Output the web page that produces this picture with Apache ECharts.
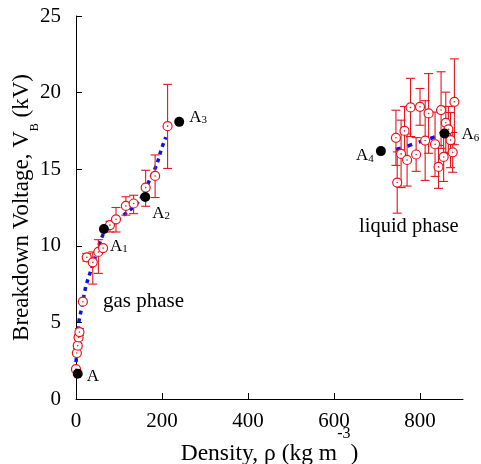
<!DOCTYPE html>
<html>
<head>
<meta charset="utf-8">
<script src="https://cdn.jsdelivr.net/npm/echarts@6/dist/echarts.min.js"></script>
<style>html,body{margin:0;padding:0;background:#fff}#c{width:481px;height:464px}</style>
</head>
<body>
<div id="c"></div>
<script>
// ---- data ----
const xTicks = [0, 200, 400, 600, 800];
const yTicks = [0, 5, 10, 15, 20, 25];

// gas phase measurements (open red circles) with error bar limits
const gasX    = [0, 2, 4, 6, 8, 16, 25, 39, 52, 63, 79, 93, 116, 134, 162, 184, 213];
const gasY    = [1.95, 3.0, 3.48, 4.02, 4.37, 6.35, 9.25, 8.92, 9.6, 9.85, 11.35, 11.73, 12.6, 12.76, 13.8, 14.56, 17.81];
const gasLow  = [1.95, 3.0, 3.3, 3.85, 4.15, 6.35, 9.0, 7.5, 8.2, 9.85, 10.9, 10.9, 12.0, 12.1, 12.58, 13.15, 15.05];
const gasHigh = [1.95, 3.0, 3.65, 4.2, 4.6, 6.35, 9.5, 9.6, 10.4, 9.85, 11.6, 12.5, 13.2, 13.3, 14.93, 15.93, 20.54];

// liquid phase measurements
const liqX    = [744, 747, 756, 764, 770, 778, 791, 800, 812, 820, 835, 843, 849, 855, 860, 866, 871, 876, 880];
const liqY    = [17.05, 14.13, 16.0, 17.5, 15.6, 19.03, 15.96, 19.07, 16.87, 18.64, 16.63, 15.15, 18.86, 15.8, 18.03, 17.6, 16.9, 16.1, 19.4];
const liqErr  = [1.8, 2.0, 2.2, 1.6, 1.7, 1.9, 1.1, 1.2, 2.6, 2.6, 2.1, 1.4, 2.5, 1.6, 2.0, 1.5, 1.8, 1.3, 2.8];

// reference points (filled black)
const refX     = [4, 65, 161, 240, 709, 857];
const refY     = [1.65, 11.1, 13.19, 18.09, 16.18, 17.33];
const refNames = ['A', 'A1', 'A2', 'A3', 'A4', 'A6'];

// fitted trend lines (blue dotted)
const gasFitX = [0, 7, 14, 23, 37, 56, 65, 80, 106, 127, 149, 168, 188, 199, 209];
const gasFitY = [2.4, 5.1, 6.07, 7.4, 8.6, 10.25, 10.9, 11.35, 11.9, 12.37, 12.97, 14.1, 15.3, 16.35, 17.1];
const liqFitX = [744, 767, 788, 831, 850, 874];
const liqFitY = [16.29, 16.46, 16.68, 17.07, 17.27, 17.55];

// ---- chart ----
const FONT = 'Liberation Serif';
const RED = '#e8141b';
const chart = echarts.init(document.getElementById('c'), null, {renderer: 'canvas'});

const zip = (a, b) => a.map((v, i) => [v, b[i]]);
const errData = gasX.map((x, i) => [x, gasLow[i], gasHigh[i]])
  .concat(liqX.map((x, i) => [x, liqY[i] - liqErr[i], liqY[i] + liqErr[i]]));

const labelPlace = {
  'A':  {position: 'right', distance: 4, offset: [0, 2]},
  'A1': {position: 'right', distance: 1, offset: [0, 17]},
  'A2': {position: 'right', distance: 2, offset: [0, 16]},
  'A3': {position: 'right', distance: 5, offset: [0, -5]},
  'A4': {position: 'left',  distance: 2, offset: [0, 4]},
  'A6': {position: 'right', distance: 12, offset: [0, 1]}
};
const richLbl = {
  a: {fontFamily: FONT, fontSize: 17, color: '#000', lineHeight: 18, verticalAlign: 'bottom'},
  s: {fontFamily: FONT, fontSize: 11, color: '#000', lineHeight: 12, verticalAlign: 'bottom'}
};
const refData = refX.map((x, i) => {
  const n = refNames[i];
  const txt = n.length > 1 ? '{a|A}{s|' + n.slice(1) + '}' : '{a|A}';
  return {
    value: [x, refY[i]],
    label: Object.assign({show: true, formatter: txt, rich: richLbl}, labelPlace[n])
  };
});

const option = {
  animation: false,
  backgroundColor: '#fff',
  grid: {left: 76, right: 18, top: 16, bottom: 65, outerBoundsMode: 'none'},
  xAxis: {
    type: 'value', min: 0, max: 900, interval: 200,
    name: '{a|Density, ρ (kg m}{t|-3}{a|)}',
    nameLocation: 'middle', nameGap: 27, nameMoveOverlap: false,
    nameTextStyle: {
      fontFamily: FONT, fontSize: 23, color: '#000',
      rich: {
        a: {fontFamily: FONT, fontSize: 23.5, color: '#000', lineHeight: 40, verticalAlign: 'bottom'},
        t: {fontFamily: FONT, fontSize: 16, color: '#000', lineHeight: 16, verticalAlign: 'top'}
      }
    },
    splitLine: {show: false},
    axisLine: {show: true, onZero: false, lineStyle: {color: '#000', width: 1}},
    axisTick: {show: true, inside: true, length: 6, customValues: xTicks, lineStyle: {color: '#000'}},
    axisLabel: {customValues: xTicks, fontFamily: FONT, fontSize: 21, color: '#000', margin: 12}
  },
  yAxis: {
    type: 'value', min: 0, max: 25, interval: 5,
    name: '{a|Breakdown Voltage, V}{s|B}{a| (kV)}',
    nameLocation: 'middle', nameGap: 35, nameRotate: 90, nameMoveOverlap: false,
    nameTextStyle: {
      fontFamily: FONT, fontSize: 23, color: '#000',
      rich: {
        a: {fontFamily: FONT, fontSize: 23, color: '#000', lineHeight: 31, verticalAlign: 'top'},
        s: {fontFamily: FONT, fontSize: 12, color: '#000', lineHeight: 12, verticalAlign: 'bottom'}
      }
    },
    splitLine: {show: false},
    axisLine: {show: true, onZero: false, lineStyle: {color: '#000', width: 1}},
    axisTick: {show: true, inside: true, length: 6, customValues: yTicks, lineStyle: {color: '#000'}},
    axisLabel: {customValues: yTicks, fontFamily: FONT, fontSize: 21, color: '#000', margin: 15}
  },
  graphic: [
    {type: 'text', left: 103, top: 291, style: {text: 'gas phase', fontFamily: FONT, fontSize: 21, fill: '#000'}},
    {type: 'text', left: 359, top: 216, style: {text: 'liquid phase', fontFamily: FONT, fontSize: 20.5, fill: '#000'}}
  ],
  series: [
    {
      type: 'line', data: zip(gasFitX, gasFitY), showSymbol: false, smooth: false, z: 2,
      lineStyle: {color: '#1010e0', width: 3.5, type: [4, 4]}
    },
    {
      type: 'line', data: zip(liqFitX, liqFitY), showSymbol: false, z: 2,
      lineStyle: {color: '#1010e0', width: 3.5, type: [5, 7]}
    },
    {
      type: 'custom', z: 3, data: errData,
      encode: {x: 0, y: [1, 2]},
      renderItem: function (params, api) {
        const x = api.value(0), lo = api.value(1), hi = api.value(2);
        if (hi - lo < 0.01) return {type: 'group', children: []};
        const p1 = api.coord([x, hi]), p2 = api.coord([x, lo]);
        const w = 4.5;
        const st = {stroke: RED, lineWidth: 1.1};
        return {
          type: 'group', children: [
            {type: 'line', shape: {x1: p1[0], y1: p1[1], x2: p2[0], y2: p2[1]}, style: st},
            {type: 'line', shape: {x1: p1[0] - w, y1: p1[1], x2: p1[0] + w, y2: p1[1]}, style: st},
            {type: 'line', shape: {x1: p2[0] - w, y1: p2[1], x2: p2[0] + w, y2: p2[1]}, style: st}
          ]
        };
      }
    },
    {
      type: 'scatter', z: 4, symbol: 'circle', symbolSize: 9,
      data: zip(gasX, gasY).concat(zip(liqX, liqY)),
      itemStyle: {color: '#fff', borderColor: RED, borderWidth: 1.2, opacity: 1}
    },
    {
      type: 'scatter', z: 4, symbol: 'circle', symbolSize: 1.6, silent: true,
      data: zip(gasX, gasY).concat(zip(liqX, liqY)),
      itemStyle: {color: RED, opacity: 1}
    },
    {
      type: 'scatter', z: 5, symbol: 'circle', symbolSize: 10,
      data: refData,
      itemStyle: {color: '#000', opacity: 1}
    }
  ]
};
chart.setOption(option);
</script>
</body>
</html>
